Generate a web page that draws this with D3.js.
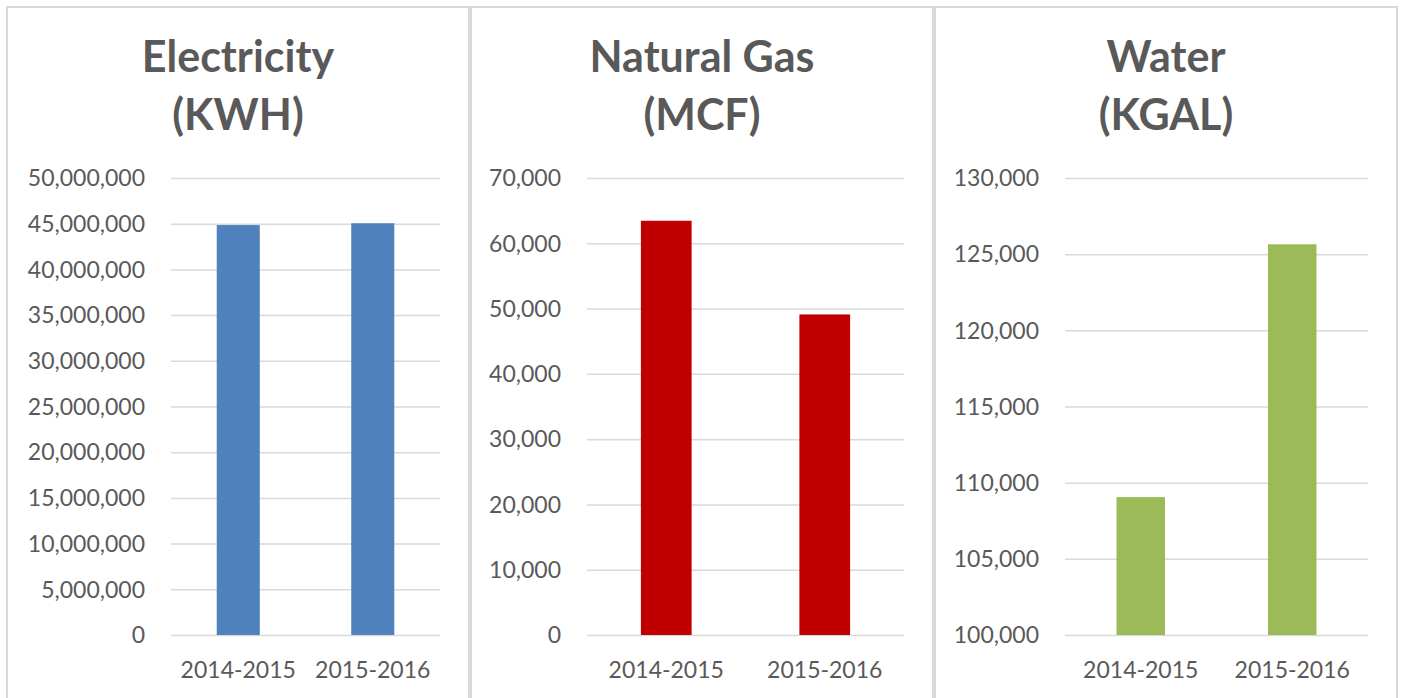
<!DOCTYPE html>
<html lang="en">
<head>
    <meta charset="UTF-8">
    <title>Utility Usage</title>
    <style>
        body {
            margin: 0;
            background: #fff;
        }
        svg {
            display: block;
            font-family: Lato, "Open Sans", sans-serif;
        }
        .panel-border {
            fill: #fff;
            stroke: #d9d9d9;
            stroke-width: 2;
        }
        .title {
            font-size: 43px;
            font-weight: bold;
            fill: #595959;
        }
        .tick-label {
            font-size: 23px;
            fill: #595959;
        }
        .grid line {
            stroke: #d9d9d9;
            stroke-width: 1.5;
        }
    </style>
    <script src="https://d3js.org/d3.v7.min.js"></script>
</head>
<body>
    <svg id="chart" width="1402" height="698"></svg>
    <script>
        const years = ["2014-2015", "2015-2016"];

        const electricity = [44850000, 45050000];
        const naturalGas = [63450, 49100];
        const water = [109050, 125650];

        const electricityTicks = [0, 5000000, 10000000, 15000000, 20000000, 25000000, 30000000, 35000000, 40000000, 45000000, 50000000];
        const naturalGasTicks = [0, 10000, 20000, 30000, 40000, 50000, 60000, 70000];
        const waterTicks = [100000, 105000, 110000, 115000, 120000, 125000, 130000];

        const svg = d3.select("#chart");
        const fmt = d3.format(",");

        function bar_panel({ x0, titleLines, values, ticks, color, gridLeft }) {
            const panelWidth = 462;
            const top = 178, bottom = 635;
            const gridRight = x0 + 433;

            const g = svg.append("g");

            // panel frame, runs off the bottom of the picture
            g.append("rect")
                .attr("class", "panel-border")
                .attr("x", x0)
                .attr("y", 7)
                .attr("width", panelWidth)
                .attr("height", 720);

            g.selectAll(".title")
                .data(titleLines)
                .enter().append("text")
                .attr("class", "title")
                .attr("x", x0 + panelWidth / 2)
                .attr("y", (d, i) => 72 + i * 58)
                .style("text-anchor", "middle")
                .text(d => d);

            const yScale = d3.scaleLinear()
                .domain(d3.extent(ticks))
                .range([bottom, top]);

            const xScale = d3.scaleBand()
                .domain(years)
                .range([gridLeft, gridRight])
                .paddingInner(0.68)
                .paddingOuter(0.34);

            // gridlines
            g.append("g")
                .attr("class", "grid")
                .attr("transform", `translate(${gridLeft},0)`)
                .call(d3.axisRight(yScale).tickValues(ticks).tickSize(gridRight - gridLeft).tickFormat(""))
                .call(a => a.select(".domain").remove());

            // y labels
            g.selectAll(".y-label")
                .data(ticks)
                .enter().append("text")
                .attr("class", "tick-label")
                .attr("x", gridLeft - 26)
                .attr("y", d => yScale(d))
                .attr("dy", "0.36em")
                .style("text-anchor", "end")
                .text(d => fmt(d));

            g.selectAll(".bar")
                .data(values)
                .enter().append("rect")
                .attr("class", "bar")
                .attr("x", (d, i) => xScale(years[i]))
                .attr("y", d => yScale(d))
                .attr("width", xScale.bandwidth())
                .attr("height", d => bottom - yScale(d))
                .attr("fill", color);

            g.selectAll(".x-label")
                .data(years)
                .enter().append("text")
                .attr("class", "tick-label")
                .attr("x", d => xScale(d) + xScale.bandwidth() / 2)
                .attr("y", 678)
                .style("text-anchor", "middle")
                .text(d => d);
        }

        bar_panel({
            x0: 7,
            titleLines: ["Electricity", "(KWH)"],
            values: electricity,
            ticks: electricityTicks,
            color: "#4f81bd",
            gridLeft: 171
        });
        bar_panel({
            x0: 471,
            titleLines: ["Natural Gas", "(MCF)"],
            values: naturalGas,
            ticks: naturalGasTicks,
            color: "#c00000",
            gridLeft: 587
        });
        bar_panel({
            x0: 935,
            titleLines: ["Water", "(KGAL)"],
            values: water,
            ticks: waterTicks,
            color: "#9bbb59",
            gridLeft: 1065
        });
    </script>
</body>
</html>
